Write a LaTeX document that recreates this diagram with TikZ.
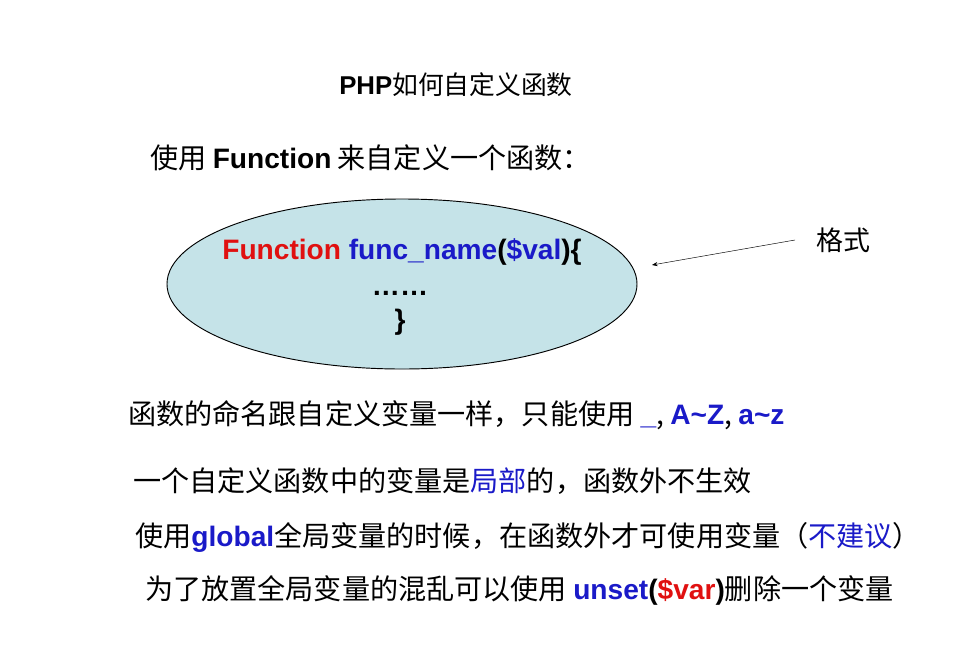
\documentclass[tikz,border=0pt]{standalone}
\usepackage{fontspec}
\setmainfont{Noto Sans CJK SC}
\newfontfamily\latb{Liberation Sans}
\usetikzlibrary{arrows.meta, shapes.geometric}
\definecolor{ellfill}{HTML}{C5E3E8}
\definecolor{kwblue}{HTML}{1A1AC8}
\definecolor{kwred}{HTML}{E01010}
\newcommand{\kw}[2]{\textcolor{#1}{{\latb\bfseries #2}}}
\begin{document}
\begin{tikzpicture}[x=0.03cm, y=-0.03cm, >=Stealth,
    line/.style={anchor=west, font=\fontsize{24}{28}\selectfont, inner sep=0pt},
    code/.style={font=\latb\bfseries\fontsize{24}{28}\selectfont, inner sep=0pt}]
    \useasboundingbox (0,0) rectangle (962,645);
    % Title
    \node[inner sep=0pt, font=\fontsize{22}{26}\selectfont] (title) at (456,85) {{\latb\bfseries PHP}如何自定义函数};
    \node[line] (intro) at (150,158) {使用 {\latb\bfseries Function} 来自定义一个函数：};
    % Format box
    \node[draw, thick, ellipse, fill=ellfill, minimum width=14.1cm, minimum height=5.1cm, inner sep=0pt] (fmt) at (402,284) {};
    \node[code] (sig) at (402,252) {\textcolor{kwred}{Function} \textcolor{kwblue}{func\_name}(\textcolor{kwblue}{\$val})\{};
    \node[code] (body) at (400,293) {……};
    \node[code] (close) at (400,322) {\}};
    \node[inner sep=0pt, font=\fontsize{23}{27}\selectfont] (label) at (843,240) {格式};
    \coordinate (tail) at (795,240);
    \coordinate (tip) at (652,265);
    \draw[->] (tail) -- (tip);
    % Rules
    \node[line] (r1) at (128,415) {函数的命名跟自定义变量一样，只能使用 \kw{kwblue}{\_}, \kw{kwblue}{A\string~Z}, \kw{kwblue}{a\string~z}};
    \node[line] (r2) at (133,481) {一个自定义函数中的变量是\textcolor{kwblue}{局部}的，函数外不生效};
    \node[line] (r3) at (135,537) {使用\kw{kwblue}{global}全局变量的时候，在函数外才可使用变量（\textcolor{kwblue}{不建议}）};
    \node[line] (r4) at (145,590) {为了放置全局变量的混乱可以使用 \kw{kwblue}{unset}{\latb\bfseries(\textcolor{kwred}{\$var})}删除一个变量};
\end{tikzpicture}
\end{document}
